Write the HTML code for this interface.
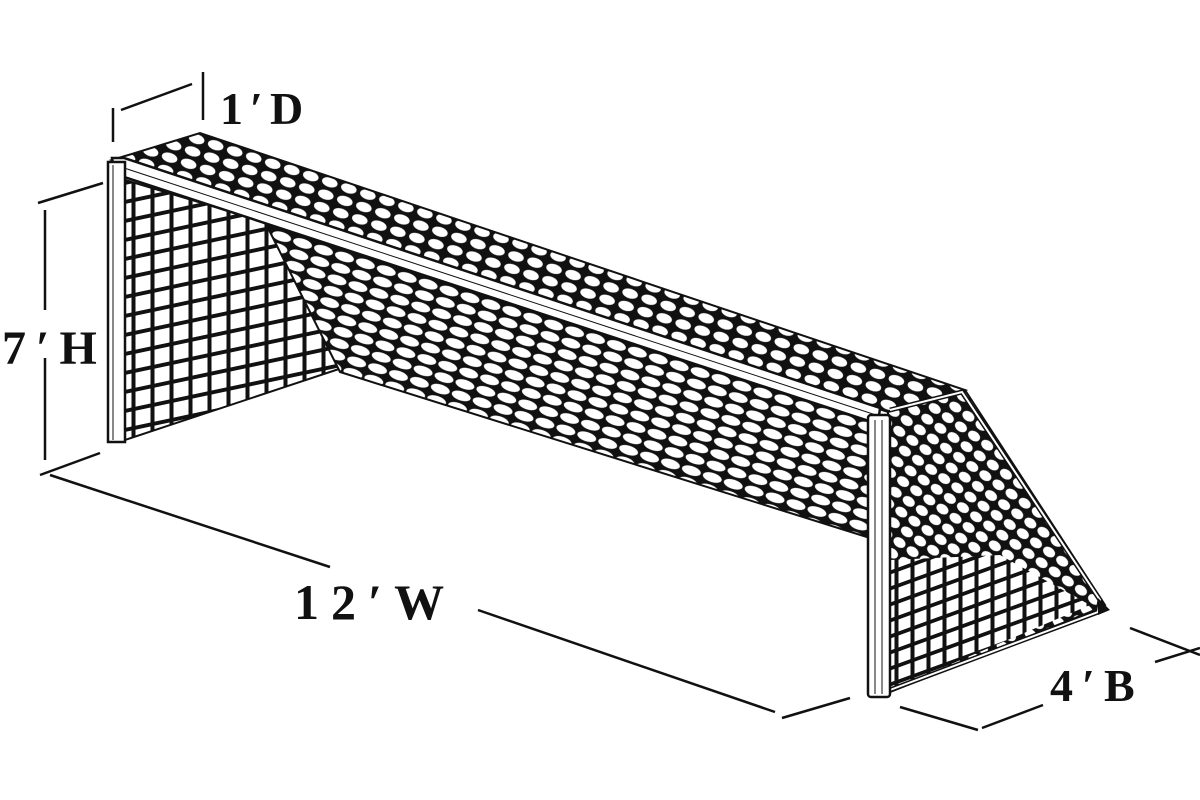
<!DOCTYPE html>
<html><head><meta charset="utf-8"><style>
html,body{margin:0;padding:0;background:#fff;width:1200px;height:800px;overflow:hidden}
svg{display:block}
text{font-family:"Liberation Serif",serif;font-weight:bold;fill:#111}
</style></head><body>
<svg width="1200" height="800" viewBox="0 0 1200 800" xmlns="http://www.w3.org/2000/svg">
<defs>
<pattern id="diag" width="22" height="12" patternUnits="userSpaceOnUse" patternTransform="rotate(18)">
<rect width="22" height="12" fill="#111"/>
<ellipse cx="11" cy="6" rx="9.8" ry="4.6" fill="#fff"/>
</pattern>
<pattern id="top" width="20" height="13" patternUnits="userSpaceOnUse" patternTransform="rotate(18)">
<rect width="20" height="13" fill="#111"/>
<ellipse cx="10" cy="6.5" rx="8" ry="4.8" fill="#fff"/>
</pattern>
<pattern id="sq" width="19" height="19" patternUnits="userSpaceOnUse" patternTransform="skewY(-12)">
<rect width="19" height="19" fill="#111"/>
<rect x="2.5" y="2.5" width="15" height="15" fill="#fff"/>
</pattern>
<pattern id="sq2" width="16" height="16" patternUnits="userSpaceOnUse" patternTransform="skewY(-20)">
<rect width="16" height="16" fill="#111"/>
<rect x="2.5" y="2.5" width="12" height="12" fill="#fff"/>
</pattern>
<pattern id="rs" width="16" height="13" patternUnits="userSpaceOnUse" patternTransform="rotate(35)">
<rect width="16" height="13" fill="#111"/>
<ellipse cx="8" cy="6.5" rx="6.5" ry="4.8" fill="#fff"/>
</pattern>
</defs>

<polygon points="125,180 265,222 342,368 125,440" fill="url(#sq)" stroke="#111" stroke-width="2"/>
<polygon points="125,175 870,420 870,538 340,372 265,222" fill="url(#diag)" stroke="#111" stroke-width="2"/>
<polygon points="112,160 200,133 965,390 888,412" fill="url(#top)" stroke="#111" stroke-width="2"/>
<polygon points="888,412 965,390 1105,605 1090,612 890,692" fill="url(#rs)" stroke="#111" stroke-width="2"/>
<polygon points="890,560 1000,555 1090,605 890,690" fill="url(#sq2)"/>
<polyline points="890,410 962,392 1100,600 1098,612 890,690" fill="none" stroke="#111" stroke-width="5"/>
<polyline points="890,410 962,392 1100,600 1098,612 890,690" fill="none" stroke="#fff" stroke-width="2"/>
<polygon points="1098,598 1110,610 1098,615" fill="#111"/>

<polygon points="112,158 124,158 880,408 878,424 115,174" fill="#fff" stroke="#111" stroke-width="2.5"/>
<line x1="118" y1="166" x2="879" y2="416" stroke="#111" stroke-width="1"/>
<rect x="108" y="162" width="17" height="280" fill="#fff" stroke="#111" stroke-width="2.5"/>
<line x1="113" y1="165" x2="113" y2="440" stroke="#111" stroke-width="1"/>
<rect x="868" y="415" width="22" height="282" rx="3" fill="#fff" stroke="#111" stroke-width="2.5"/>
<line x1="875" y1="420" x2="875" y2="694" stroke="#111" stroke-width="1"/>
<line x1="882" y1="420" x2="882" y2="694" stroke="#111" stroke-width="1"/>

<g stroke="#111" stroke-width="2.5" fill="none">
<line x1="113" y1="108" x2="113" y2="142"/>
<line x1="121" y1="110" x2="192" y2="84"/>
<line x1="203" y1="72" x2="203" y2="120"/>
<line x1="38" y1="203" x2="103" y2="183"/>
<line x1="45" y1="210" x2="45" y2="310"/>
<line x1="45" y1="358" x2="45" y2="460"/>
<line x1="40" y1="475" x2="100" y2="453"/>
<line x1="50" y1="475" x2="330" y2="567"/>
<line x1="478" y1="610" x2="775" y2="712"/>
<line x1="782" y1="718" x2="850" y2="698"/>
<line x1="900" y1="707" x2="978" y2="730"/>
<line x1="982" y1="728" x2="1043" y2="705"/>
<line x1="1130" y1="628" x2="1200" y2="655"/>
<line x1="1155" y1="662" x2="1200" y2="648"/>
</g>

<text x="220" y="124" font-size="46" letter-spacing="7">1′D</text>
<text x="2" y="364" font-size="48" letter-spacing="10">7′H</text>
<text x="294" y="619" font-size="50" letter-spacing="12">12′W</text>
<text x="1050" y="701" font-size="46" letter-spacing="9">4′B</text>
</svg>
</body></html>
